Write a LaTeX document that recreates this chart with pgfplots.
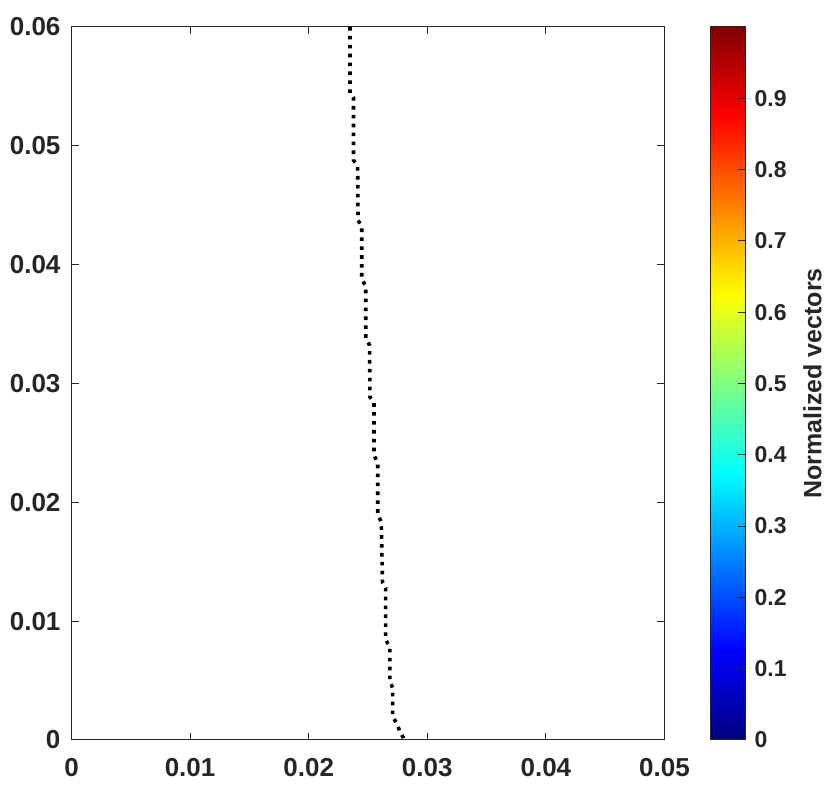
\documentclass[border=0pt]{standalone}
\usepackage{fontspec}
\setmainfont{Liberation Sans}
\usepackage{pgfplots}
\pgfplotsset{compat=1.18}
\definecolor{axgray}{RGB}{38,38,38}
\begin{document}
\begin{tikzpicture}
\begin{axis}[name=main,
  scale only axis, width=296.5pt, height=356.5pt,
  xmin=0, xmax=0.05, ymin=0, ymax=0.06,
  xtick={0,0.01,0.02,0.03,0.04,0.05},
  xticklabels={0,0.01,0.02,0.03,0.04,0.05},
  ytick={0,0.01,0.02,0.03,0.04,0.05,0.06},
  yticklabels={0,0.01,0.02,0.03,0.04,0.05,0.06},
  scaled ticks=false,
  tick align=inside, major tick length=3.7pt,
  axis line style={axgray, line width=0.5pt},
  tick style={axgray, line width=0.5pt},
  ticklabel style={font=\fontsize{13}{15}\selectfont\bfseries, text=axgray},
  xticklabel style={yshift=-5.5pt},
  yticklabel style={xshift=-2pt},
  colorbar, colormap/jet, point meta min=0, point meta max=1,
  colorbar/width=17.5pt,
  colorbar style={
    at={(parent axis.north east)}, anchor=north west, xshift=14.5pt,
    ytick={0,0.1,0.2,0.3,0.4,0.5,0.6,0.7,0.8,0.9},
    yticklabels={0,0.1,0.2,0.3,0.4,0.5,0.6,0.7,0.8,0.9},
    ytick pos=right, yticklabel pos=right,
    tick align=inside, major tick length=3.7pt,
    axis line style={axgray, line width=0.5pt},
    tick style={axgray, line width=0.5pt},
    ticklabel style={font=\fontsize{11.5}{13}\selectfont\bfseries, text=axgray},
    yticklabel style={xshift=1pt},
    ylabel={Normalized vectors},
    ylabel style={font=\fontsize{12.5}{14}\selectfont\bfseries, text=axgray, yshift=-1.5pt},
  },
]
\addplot[black, line width=1.8pt, dash pattern=on 1.8pt off 2.65pt] coordinates {
(0.02348,0.0600) (0.02348,0.05444) (0.02378,0.05403) (0.02378,0.04881)
(0.02413,0.04822) (0.02416,0.04376) (0.02447,0.04317) (0.02447,0.03879)
(0.02481,0.03820) (0.02481,0.03383) (0.02513,0.03324) (0.02517,0.02886)
(0.02551,0.02836) (0.02551,0.02398) (0.02582,0.02331) (0.02582,0.01902)
(0.02612,0.01834) (0.02622,0.01330) (0.02649,0.01279) (0.02649,0.00842)
(0.02685,0.00783) (0.02685,0.00496) (0.02708,0.00438) (0.02708,0.00194)
(0.02742,0.00143) (0.02770,0.00067) (0.02799,0.00017) (0.02804,0.0)
};
\end{axis}
\path (main.south west) ++(-35.75pt,-25.5pt) rectangle ++(415pt,395.5pt);
\end{tikzpicture}
\end{document}
